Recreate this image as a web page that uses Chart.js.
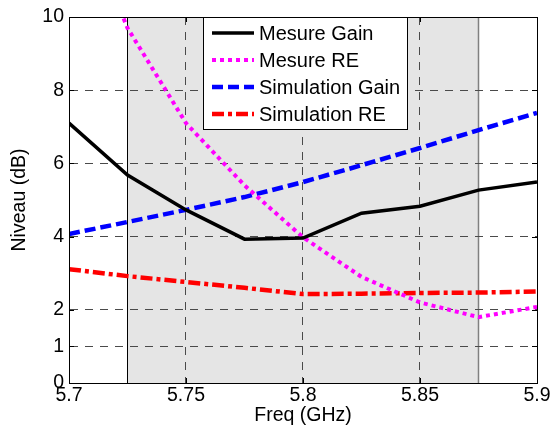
<!DOCTYPE html>
<html>
<head>
<meta charset="utf-8">
<script src="https://cdn.jsdelivr.net/npm/chart.js@4.4.0/dist/chart.umd.min.js"></script>
<style>
  html, body { margin: 0; padding: 0; background: #fff; }
  #wrap { width: 552px; height: 433px; }
</style>
</head>
<body>
<div id="wrap"><canvas id="chart" width="552" height="433"></canvas></div>
<script>
// donnees
const freqs = [5.7, 5.725, 5.75, 5.775, 5.8, 5.825, 5.85, 5.875, 5.9];
const mesureGain = [7.10, 5.68, 4.73, 3.93, 3.96, 4.64, 4.83, 5.27, 5.49];
const mesureRE = [13.6, 9.7, 7.1, 5.4, 3.98, 2.9, 2.2, 1.8, 2.08];
const simGain = [4.07, 4.40, 4.73, 5.08, 5.49, 5.95, 6.42, 6.91, 7.38];
const simRE = [3.11, 2.92, 2.76, 2.60, 2.43, 2.44, 2.46, 2.47, 2.50];

const xTicks = [5.7, 5.75, 5.8, 5.85, 5.9];
const yTicks = [0, 1, 2, 4, 6, 8, 10];
const bandStart = 5.725;
const bandEnd = 5.875;

const FONT = "'Liberation Sans', Arial, sans-serif";

function pts(ys){
  return freqs.map((f,i) => ({x: f, y: ys[i]}));
}

const series = [
  {label: 'Mesure Gain', data: mesureGain, color: '#000000', width: 3.5, dash: []},
  {label: 'Mesure RE', data: mesureRE, color: '#ff00ff', width: 4, dash: [4, 4]},
  {label: 'Simulation Gain', data: simGain, color: '#0000ff', width: 4.5, dash: [11, 5]},
  {label: 'Simulation RE', data: simRE, color: '#ff0000', width: 4.5, dash: [12, 4, 4, 4]}
];

// bande grisee + traits verticaux aux bords
const bandPlugin = {
  id: 'band',
  beforeDraw(c){
    const {ctx, chartArea: a, scales: {x}} = c;
    const x0 = x.getPixelForValue(bandStart);
    const x1 = x.getPixelForValue(bandEnd);
    ctx.save();
    ctx.fillStyle = '#e5e5e5';
    ctx.fillRect(x0, a.top, x1 - x0, a.bottom - a.top);
    ctx.lineWidth = 1;
    ctx.strokeStyle = '#000';
    ctx.beginPath(); ctx.moveTo(Math.round(x0)+0.5, a.top); ctx.lineTo(Math.round(x0)+0.5, a.bottom); ctx.stroke();
    ctx.strokeStyle = '#808080';
    ctx.lineWidth = 1.5;
    ctx.beginPath(); ctx.moveTo(x1, a.top); ctx.lineTo(x1, a.bottom); ctx.stroke();
    ctx.restore();
  }
};

// cadre, petites graduations vers l'interieur, legende
const framePlugin = {
  id: 'frame',
  afterDraw(c){
    const {ctx, chartArea: a, scales: {x, y}} = c;
    ctx.save();
    ctx.strokeStyle = '#000';
    ctx.lineWidth = 1;
    ctx.strokeRect(Math.round(a.left)+0.5, Math.round(a.top)+0.5, Math.round(a.right-a.left), Math.round(a.bottom-a.top));
    ctx.beginPath();
    xTicks.forEach(v => {
      const px = Math.round(x.getPixelForValue(v)) + 0.5;
      ctx.moveTo(px, a.bottom); ctx.lineTo(px, a.bottom - 5);
      ctx.moveTo(px, a.top); ctx.lineTo(px, a.top + 5);
    });
    yTicks.forEach(v => {
      const py = Math.round(y.getPixelForValue(v)) + 0.5;
      ctx.moveTo(a.left, py); ctx.lineTo(a.left + 5, py);
      ctx.moveTo(a.right, py); ctx.lineTo(a.right - 5, py);
    });
    ctx.stroke();

    // legende
    const lx = a.left + 134, ly = a.top, lw = 204, lh = 112;
    ctx.fillStyle = '#fff';
    ctx.fillRect(lx, ly, lw, lh);
    ctx.strokeRect(lx + 0.5, ly + 0.5, lw, lh);
    ctx.font = '20px ' + FONT;
    ctx.textBaseline = 'middle';
    series.forEach((s, i) => {
      const ry = ly + 16 + i * 27;
      ctx.strokeStyle = s.color;
      ctx.lineWidth = s.width;
      ctx.setLineDash(s.dash);
      ctx.beginPath(); ctx.moveTo(lx + 9, ry); ctx.lineTo(lx + 51, ry); ctx.stroke();
      ctx.setLineDash([]);
      ctx.fillStyle = '#000';
      ctx.fillText(s.label, lx + 56, ry + 1);
    });
    ctx.restore();
  }
};

const gridColor = (ctx, ends) => ends.includes(ctx.tick.value) ? 'rgba(0,0,0,0)' : '#4a4a4a';

new Chart(document.getElementById('chart'), {
  type: 'line',
  data: {
    datasets: series.map(s => ({
      label: s.label,
      data: pts(s.data),
      borderColor: s.color,
      backgroundColor: s.color,
      borderWidth: s.width,
      borderDash: s.dash,
      pointRadius: 0,
      tension: 0,
      fill: false
    }))
  },
  options: {
    responsive: false,
    animation: false,
    layout: { padding: { top: 17, right: 15, left: 0, bottom: 0 } },
    plugins: { legend: { display: false }, tooltip: { enabled: false } },
    scales: {
      x: {
        type: 'linear',
        min: 5.7, max: 5.9,
        afterBuildTicks: s => { s.ticks = xTicks.map(v => ({value: v})); },
        afterFit: s => { s.height = 50; },
        ticks: { color: '#000', font: { family: FONT, size: 19.5 }, padding: 1, maxRotation: 0,
                 callback: v => String(v) },
        grid: { drawTicks: false, color: ctx => gridColor(ctx, [5.7, 5.9]), lineWidth: 1 },
        border: { display: true, color: '#000', dash: [8, 7] },
        title: { display: true, text: 'Freq (GHz)', color: '#000', font: { family: FONT, size: 19.5 }, padding: { top: 0, bottom: 6 } }
      },
      y: {
        min: 0, max: 10,
        afterBuildTicks: s => { s.ticks = yTicks.map(v => ({value: v})); },
        afterFit: s => { s.width = 69; },
        ticks: { color: '#000', font: { family: FONT, size: 19.5 }, padding: 5 },
        grid: { drawTicks: false, color: ctx => gridColor(ctx, [0, 10]), lineWidth: 1 },
        border: { display: true, color: '#000', dash: [8, 7] },
        title: { display: true, text: 'Niveau (dB)', color: '#000', font: { family: FONT, size: 19.5 }, padding: { top: 8, bottom: 0 } }
      }
    }
  },
  plugins: [bandPlugin, framePlugin]
});
</script>
</body>
</html>
